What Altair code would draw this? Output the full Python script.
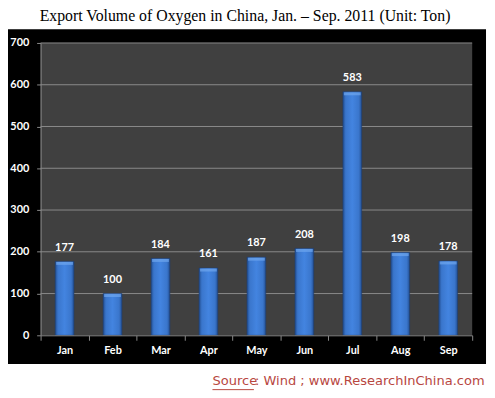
import altair as alt
import pandas as pd

months = ["Jan", "Feb", "Mar", "Apr", "May", "Jun", "Jul", "Aug", "Sep"]
values = [177, 100, 184, 161, 187, 208, 583, 198, 178]
y_ticks = [0, 100, 200, 300, 400, 500, 600, 700]
title_text = "Export Volume of Oxygen in China, Jan. \u2013 Sep. 2011 (Unit: Ton)"
source_label = "Source"
source_rest = ": Wind ; www.ResearchInChina.com"

W, H = 437, 296
df = pd.DataFrame({"month": months, "value": values})
grid_df = pd.DataFrame({"v": y_ticks[1:]})
one = pd.DataFrame({"k": [0]})

yscale = alt.Scale(domain=[0, 700], nice=False, zero=True)
xscale = alt.Scale(paddingInner=0, paddingOuter=0)

bg = alt.Chart(one).mark_rect(color="black").encode(
    x=alt.value(-33), x2=alt.value(451), y=alt.value(-14), y2=alt.value(325))
plotbg = alt.Chart(one).mark_rect(color="#404040").encode(
    x=alt.value(0), x2=alt.value(W), y=alt.value(0), y2=alt.value(H))

grid = alt.Chart(grid_df).mark_rule(color="#8a8a8a", strokeWidth=1).encode(
    y=alt.Y("v:Q", scale=yscale))

grad = alt.Gradient(
    gradient="linear", x1=0, x2=1, y1=0, y2=0,
    stops=[alt.GradientStop(color="#234f92", offset=0),
           alt.GradientStop(color="#3a76cc", offset=0.15),
           alt.GradientStop(color="#4384e0", offset=0.5),
           alt.GradientStop(color="#3a76cc", offset=0.85),
           alt.GradientStop(color="#234f92", offset=1)])

bars = alt.Chart(df).mark_bar(size=19, color=grad, stroke="#1d3f75", strokeWidth=0.6).encode(
    x=alt.X("month:N", sort=months, scale=xscale,
            axis=alt.Axis(title=None, labelAngle=0, tickBand="extent", zindex=1,
                          domainColor="#8a8a8a", tickColor="#8a8a8a", tickSize=5,
                          labelColor="white", labelFont="Lato", labelFontSize=11,
                          labelFontWeight="bold", labelPadding=4)),
    y=alt.Y("value:Q", scale=yscale,
            axis=alt.Axis(title=None, values=y_ticks, grid=False, zindex=1,
                          domainColor="#8a8a8a", tickColor="#8a8a8a", tickSize=4,
                          labelColor="white", labelFont="Lato", labelFontSize=11,
                          labelFontWeight="bold", labelPadding=8)))

caps = alt.Chart(df).mark_tick(size=17, thickness=3, color="#6fa6ee", yOffset=2).encode(
    x=alt.X("month:N", sort=months, scale=xscale),
    y=alt.Y("value:Q", scale=yscale))

labels = alt.Chart(df).mark_text(dy=-14, color="white", font="Lato", fontSize=11,
                                 fontWeight="bold").encode(
    x=alt.X("month:N", sort=months, scale=xscale),
    y=alt.Y("value:Q", scale=yscale),
    text="value:Q")

title = alt.Chart(pd.DataFrame({"t": [title_text]})).mark_text(
    font="Liberation Serif", fontSize=16, color="black", baseline="alphabetic").encode(
    x=alt.value(207), y=alt.value(-22), text="t:N")

src_color = "#b8473f"
src1 = alt.Chart(pd.DataFrame({"t": [source_label]})).mark_text(
    font="DejaVu Sans", fontSize=13.2, color=src_color, align="left").encode(
    x=alt.value(174), y=alt.value(342), text="t:N")
src2 = alt.Chart(pd.DataFrame({"t": [source_rest]})).mark_text(
    font="DejaVu Sans", fontSize=13.2, color=src_color, align="left").encode(
    x=alt.value(217), y=alt.value(342), text="t:N")
underline = alt.Chart(one).mark_rule(color=src_color, strokeWidth=1).encode(
    x=alt.value(174), x2=alt.value(216), y=alt.value(351))

chart = alt.layer(bg, plotbg, grid, bars, caps, labels, title, src1, src2, underline).properties(
    width=W, height=H, autosize="none",
    padding={"left": 33, "top": 33, "right": 15, "bottom": 56},
    background="white",
).configure_view(stroke=None)

chart.save("out.html", embed_options={"renderer": "svg", "actions": False})
